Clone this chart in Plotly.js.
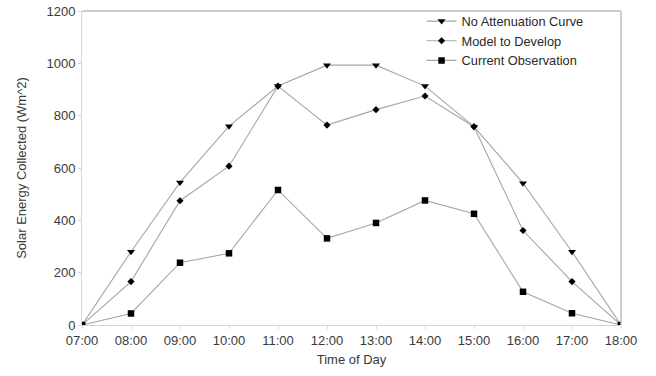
<!DOCTYPE html>
<html>
<head>
<meta charset="utf-8">
<script src="https://cdn.plot.ly/plotly-3.0.1.min.js"></script>
<style>html,body{margin:0;padding:0;background:#fff;}#chart{width:656px;height:376px;}</style>
</head>
<body>
<div id="chart"></div>
<script>
const times = ["07:00","08:00","09:00","10:00","11:00","12:00","13:00","14:00","15:00","16:00","17:00","18:00"];
const noAttenuation = [0, 280, 545, 760, 913, 993, 993, 913, 758, 542, 280, 0];
const modelToDevelop = [0, 166, 475, 607, 913, 764, 823, 875, 758, 361, 166, 0];
const currentObservation = [0, 44, 238, 274, 516, 331, 390, 476, 425, 127, 45, 0];
const yTicks = [0, 200, 400, 600, 800, 1000, 1200];

const lineStyle = {color: '#a6a6a6', width: 1.1};
const traces = [
  {x: times, y: noAttenuation, name: 'No Attenuation Curve', mode: 'lines+markers', line: lineStyle,
   marker: {symbol: 'triangle-down', size: 7, color: '#000'}},
  {x: times, y: modelToDevelop, name: 'Model to Develop', mode: 'lines+markers', line: lineStyle,
   marker: {symbol: 'diamond', size: 5.5, color: '#000'}},
  {x: times, y: currentObservation, name: 'Current Observation', mode: 'lines+markers', line: lineStyle,
   marker: {symbol: 'square', size: 6.5, color: '#000'}}
];
const layout = {
  width: 656, height: 376,
  margin: {l: 82, r: 35, t: 11, b: 51, autoexpand: false},
  paper_bgcolor: '#fff', plot_bgcolor: '#fff',
  font: {family: '"Liberation Sans", Arial, sans-serif', size: 13, color: '#3a3a3a'},
  showlegend: true,
  legend: {x: 0.63, y: 1.015, xanchor: 'left', yanchor: 'top', bgcolor: 'rgba(0,0,0,0)',
           font: {size: 12.8, color: '#2a2a2a'}, itemwidth: 30, tracegroupgap: 0},
  xaxis: {type: 'category', range: [0, 11], showgrid: false, zeroline: false,
          showline: true, linecolor: '#d6d6d6', linewidth: 1, mirror: false,
          ticks: 'outside', ticklen: 3, tickcolor: '#d6d6d6',
          title: {text: 'Time of Day', font: {size: 13, color: '#3a3a3a'}, standoff: 8},
          tickfont: {size: 13, color: '#3a3a3a'}},
  yaxis: {range: [0, 1200], tickvals: yTicks, showgrid: false, zeroline: false,
          showline: true, linecolor: '#d6d6d6', linewidth: 1,
          ticks: 'outside', ticklen: 3, tickcolor: '#d6d6d6',
          title: {text: 'Solar Energy Collected (Wm^2)', font: {size: 13, color: '#3a3a3a'}, standoff: 16},
          tickfont: {size: 13, color: '#3a3a3a'}},
  shapes: [
    {type: 'line', xref: 'paper', yref: 'paper', x0: 0, x1: 1, y0: 1, y1: 1, line: {color: '#bdbdbd', width: 1.5}},
    {type: 'line', xref: 'paper', yref: 'paper', x0: 1, x1: 1, y0: 0, y1: 1, line: {color: '#bdbdbd', width: 1.5}}
  ]
};
Plotly.newPlot('chart', traces, layout, {displayModeBar: false, staticPlot: true});
</script>
</body>
</html>
